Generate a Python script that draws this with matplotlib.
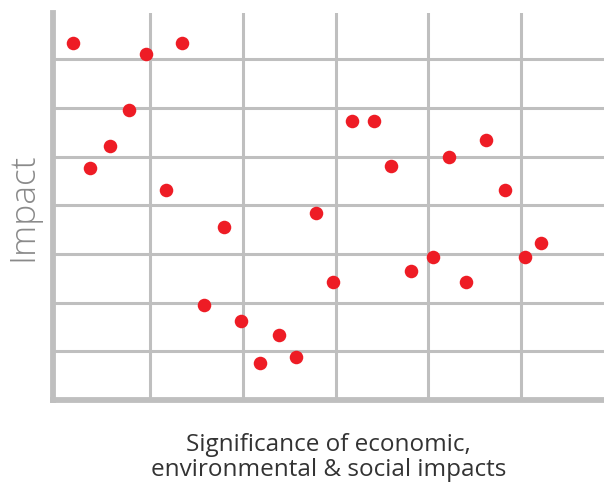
import numpy as np
import matplotlib.pyplot as plt

# data (grid units)
sig_x = [0.17, 0.35, 0.57, 0.77, 0.96, 1.35, 1.17, 1.80, 1.58, 1.98, 2.19,
         2.39, 2.57, 2.79, 2.97, 3.18, 3.42, 3.60, 3.81, 4.05, 4.22, 4.41,
         4.62, 4.83, 5.04, 5.22]
impact_y = [7.34, 4.77, 5.22, 5.96, 7.11, 7.34, 4.32, 3.55, 1.95, 1.62, 0.76,
            1.33, 0.88, 3.84, 2.42, 5.73, 5.73, 4.81, 2.65, 2.94, 4.99, 2.42,
            5.34, 4.32, 2.94, 3.22]

RED = "#ee1c25"
GRID = "#bfbfbf"

fig = plt.figure(figsize=(6.04, 4.82), dpi=100)
ax = fig.add_axes([53 / 604, 82 / 482, 551 / 604, 387 / 482])

ax.scatter(sig_x, impact_y, s=95, color=RED, linewidths=0, zorder=3)

ax.set_xlim(-0.046, 5.895)
ax.set_ylim(0, 7.95)
ax.set_xticks(np.arange(1, 6))
ax.set_yticks(np.arange(1, 8))
ax.tick_params(length=0, labelbottom=False, labelleft=False)
ax.grid(True, color=GRID, linewidth=2.2)
ax.set_axisbelow(True)

for side in ["top", "right"]:
    ax.spines[side].set_visible(False)
for side in ["left", "bottom"]:
    ax.spines[side].set_color(GRID)
    ax.spines[side].set_linewidth(4.2)

ax.set_ylabel("Impact", fontsize=25.5, color="#8a8a8a", family="Open Sans",
              fontweight="light", labelpad=9)
ax.set_xlabel("Significance of economic,\nenvironmental & social impacts",
              fontsize=17.5, color="#333333", family="Open Sans",
              linespacing=1.05, labelpad=24)

fig.savefig("out.png", dpi=100)
